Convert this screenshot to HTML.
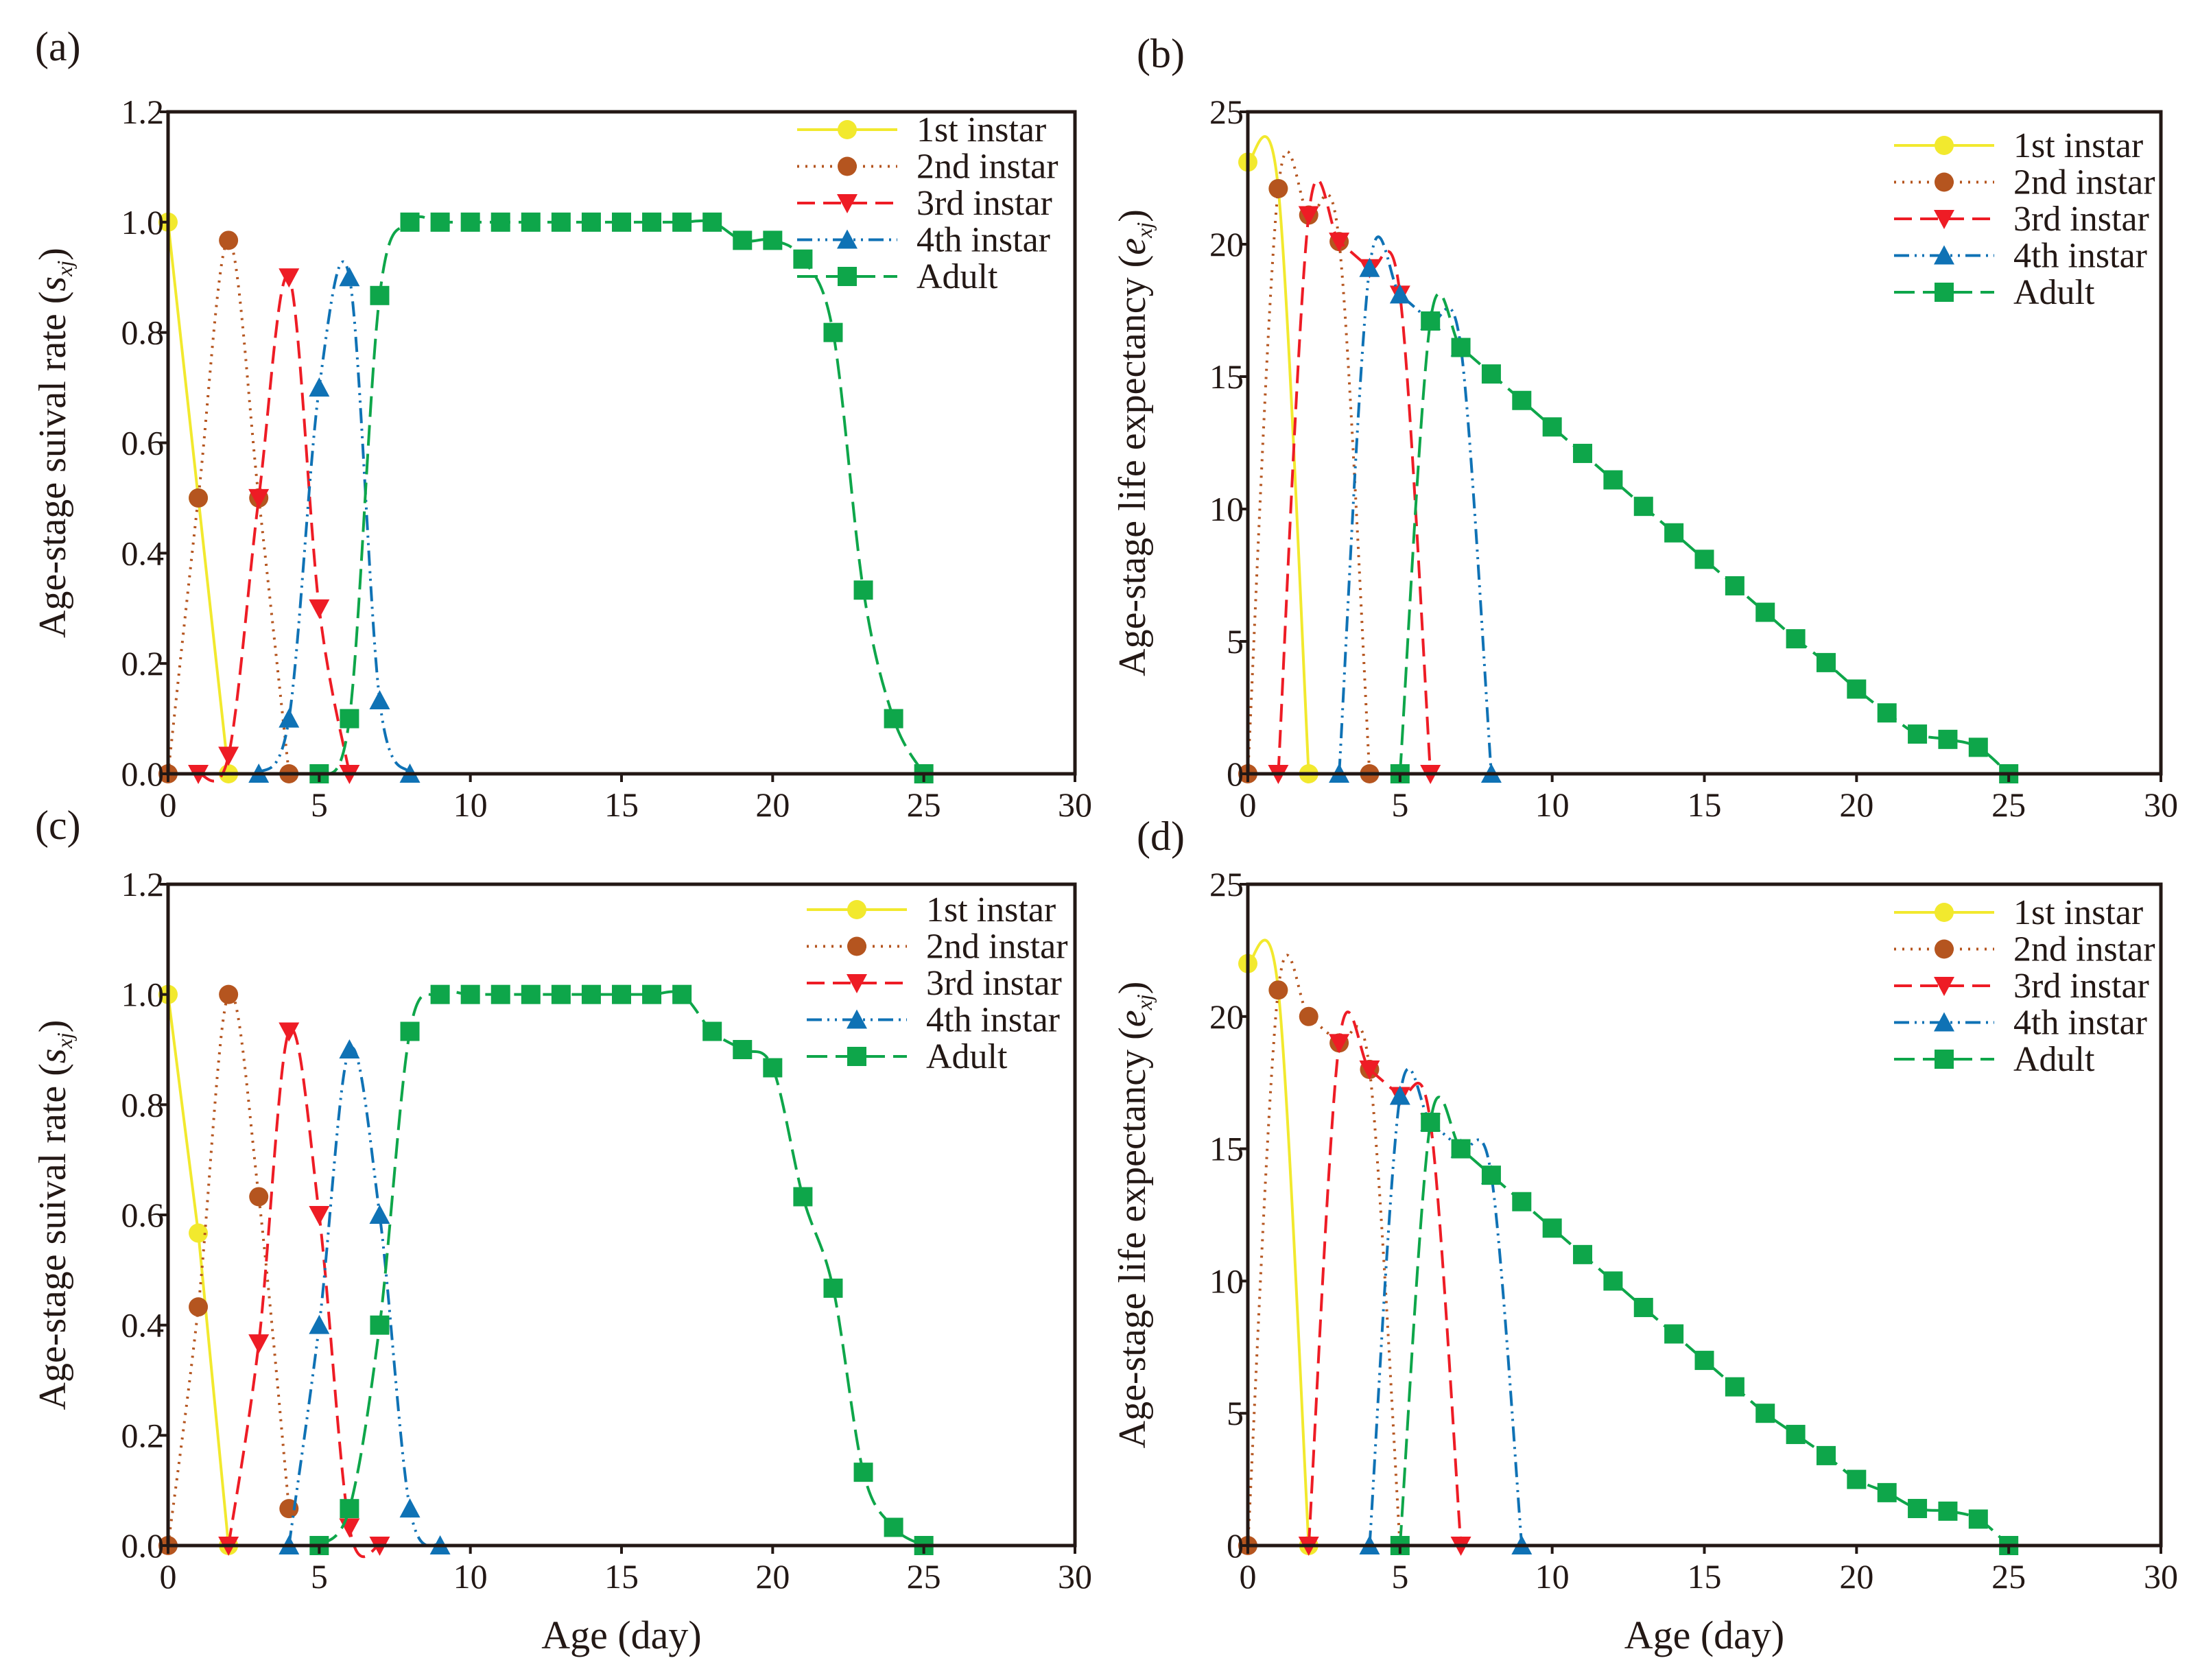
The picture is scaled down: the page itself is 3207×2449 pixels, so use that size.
<!DOCTYPE html>
<html><head><meta charset="utf-8">
<style>
html,body{margin:0;padding:0;background:#fff;}
svg{display:block;}
text{font-family:"Liberation Serif",serif;fill:#231815;}
</style></head>
<body>
<svg id="fig" width="3207" height="2449" viewBox="0 0 3207 2449" xmlns="http://www.w3.org/2000/svg"></svg>
<script>
// ---------- data ----------
const stageNames = ["1st instar","2nd instar","3rd instar","4th instar","Adult"];
// panel (a) survival
const aDays1 = [0,1,2], aVal1 = [1,0.5,0];
const aDays2 = [0,1,2,3,4], aVal2 = [0,0.5,0.967,0.5,0];
const aDays3 = [1,2,3,4,5,6], aVal3 = [0,0.033,0.5,0.9,0.3,0];
const aDays4 = [3,4,5,6,7,8], aVal4 = [0,0.1,0.7,0.9,0.133,0];
const aDays5 = [5,6,7,8,9,10,11,12,13,14,15,16,17,18,19,20,21,22,23,24,25];
const aVal5 = [0,0.1,0.867,1,1,1,1,1,1,1,1,1,1,1,0.967,0.967,0.933,0.8,0.333,0.1,0];
// panel (b) life expectancy
const bDays1 = [0,1,2], bVal1 = [23.1,22.1,0];
const bDays2 = [0,1,2,3,4], bVal2 = [0,22.1,21.1,20.1,0];
const bDays3 = [1,2,3,4,5,6], bVal3 = [0,21.1,20.1,19.1,18.1,0];
const bDays4 = [3,4,5,6,7,8], bVal4 = [0,19.1,18.1,17.1,16.1,0];
const bDays5 = [5,6,7,8,9,10,11,12,13,14,15,16,17,18,19,20,21,22,23,24,25];
const bVal5 = [0,17.1,16.1,15.1,14.1,13.1,12.1,11.1,10.1,9.1,8.1,7.1,6.1,5.1,4.2,3.2,2.3,1.5,1.3,1.0,0];
// panel (c) survival
const cDays1 = [0,1,2], cVal1 = [1,0.567,0];
const cDays2 = [0,1,2,3,4], cVal2 = [0,0.433,1,0.633,0.067];
const cDays3 = [2,3,4,5,6,7], cVal3 = [0,0.367,0.933,0.6,0.033,0];
const cDays4 = [4,5,6,7,8,9], cVal4 = [0,0.4,0.9,0.6,0.067,0];
const cDays5 = [5,6,7,8,9,10,11,12,13,14,15,16,17,18,19,20,21,22,23,24,25];
const cVal5 = [0,0.067,0.4,0.933,1,1,1,1,1,1,1,1,1,0.933,0.9,0.867,0.633,0.467,0.133,0.033,0];
// panel (d) life expectancy
const dDays1 = [0,1,2], dVal1 = [22,21,0];
const dDays2 = [0,1,2,3,4,5], dVal2 = [0,21,20,19,18,0];
const dDays3 = [2,3,4,5,6,7], dVal3 = [0,19,18,17,16,0];
const dDays4 = [4,5,6,7,8,9], dVal4 = [0,17,16,15,14,0];
const dDays5 = [5,6,7,8,9,10,11,12,13,14,15,16,17,18,19,20,21,22,23,24,25];
const dVal5 = [0,16,15,14,13,12,11,10,9,8,7,6,5,4.2,3.4,2.5,2,1.4,1.3,1.0,0];
const xTicks = [0,5,10,15,20,25,30];
const sTicks = [0,0.2,0.4,0.6,0.8,1.0,1.2];
const eTicks = [0,5,10,15,20,25];

const NS="http://www.w3.org/2000/svg";
const svg=document.getElementById('fig');
function mk(tag,attrs,parent){const e=document.createElementNS(NS,tag);for(const k in attrs)e.setAttribute(k,attrs[k]);(parent||svg).appendChild(e);return e;}

const styles=[
 {c:"#f2e92e",dash:"",m:"circle"},
 {c:"#b5551f",dash:"3 9",m:"circle"},
 {c:"#ee1c25",dash:"26 12",m:"down"},
 {c:"#0f72b5",dash:"22 8 3 8 3 8",m:"up"},
 {c:"#0ea64a",dash:"30 12",m:"square"}
];

function marker(g,type,x,y,color){
  let e;
  if(type==="circle") e=mk('circle',{cx:x,cy:y,r:14,fill:color},g);
  else if(type==="square") e=mk('rect',{x:x-14,y:y-14,width:28,height:28,fill:color},g);
  else if(type==="down") e=mk('polygon',{points:`${x-15},${y-13} ${x+15},${y-13} ${x},${y+15}`,fill:color},g);
  else e=mk('polygon',{points:`${x-15},${y+13} ${x+15},${y+13} ${x},${y-15}`,fill:color},g);
  
  
  return e;
}
function spline(pts){
  let d=`M${pts[0][0]},${pts[0][1]}`;
  for(let i=0;i<pts.length-1;i++){
    const p0=pts[i-1]||pts[i],p1=pts[i],p2=pts[i+1],p3=pts[i+2]||pts[i+1];
    const c1x=p1[0]+(p2[0]-p0[0])/6,c1y=p1[1]+(p2[1]-p0[1])/6;
    const c2x=p2[0]-(p3[0]-p1[0])/6,c2y=p2[1]-(p3[1]-p1[1])/6;
    d+=` C${c1x},${c1y} ${c2x},${c2y} ${p2[0]},${p2[1]}`;
  }
  return d;
}

function panel(cfg){
  const {L,R,T,B,ymax,yTicks,fmt,series,label,lx,ly,legX,legY,ytitle,ysub,showX}=cfg;
  const g=mk('g',{});
  
  
  const X=v=>L+(R-L)*v/30, Y=v=>B-(B-T)*v/ymax;
  series.forEach((s,i)=>{
    const st=styles[i];
    const pts=s[0].map((d,j)=>[X(d),Y(s[1][j])]);
    const p=mk('path',{d:i===0&&ymax<2?`M${pts.map(p=>p.join(',')).join(' L')}`:spline(pts),fill:'none',stroke:st.c,'stroke-width':4,'stroke-dasharray':st.dash},g);
    
    
    pts.forEach(q=>marker(g,st.m,q[0],q[1],st.c));
  });
  const fr=mk('rect',{x:L,y:T,width:R-L,height:B-T,fill:'none',stroke:'#231815','stroke-width':5},g);
  
  
  xTicks.forEach(v=>{
    mk('line',{x1:X(v),x2:X(v),y1:B,y2:B+12,stroke:'#231815','stroke-width':4},g);
    const t=mk('text',{x:X(v),y:B+62,'font-size':50,'text-anchor':'middle'},g);t.textContent=v;
    
    
  });
  yTicks.forEach(v=>{
    mk('line',{x1:L-12,x2:L,y1:Y(v),y2:Y(v),stroke:'#231815','stroke-width':4},g);
    const t=mk('text',{x:L-6,y:Y(v)+17,'font-size':50,'text-anchor':'end'},g);t.textContent=fmt(v);
    
    
  });
  const pl=mk('text',{x:lx,y:ly,'font-size':60},g);pl.textContent='('+label+')';
  
  
  const cy=(T+B)/2;
  const yt=mk('text',{x:0,y:0,'font-size':56,'text-anchor':'middle',transform:`translate(${L-150},${cy}) rotate(-90)`},g);
  yt.innerHTML=ytitle+' (<tspan font-style="italic">'+ysub+'</tspan><tspan font-style="italic" font-size="32" dy="10">xj</tspan><tspan dy="-10">)</tspan>';
  
  
  if(showX){
    const xt=mk('text',{x:(L+R)/2,y:B+150,'font-size':58,'text-anchor':'middle'},g);xt.textContent='Age (day)';
    
    
  }
  stageNames.forEach((n,i)=>{
    const st=styles[i];const y=legY+i*53.5;
    const lg=mk('g',{},g);
    
    
    mk('line',{x1:legX,x2:legX+146,y1:y,y2:y,stroke:st.c,'stroke-width':4,'stroke-dasharray':st.dash},lg);
    marker(lg,st.m,legX+73,y,st.c);
    const t=mk('text',{x:legX+174,y:y+17,'font-size':52},lg);t.textContent=n;
  });
}
const fmt1=v=>v.toFixed(1), fmt0=v=>String(v);
panel({L:245,R:1567,T:163,B:1128,ymax:1.2,yTicks:sTicks,fmt:fmt1,label:'a',lx:51,ly:88,legX:1162,legY:189,ytitle:'Age-stage suival rate',ysub:'s',showX:false,
 series:[[aDays1,aVal1],[aDays2,aVal2],[aDays3,aVal3],[aDays4,aVal4],[aDays5,aVal5]]});
panel({L:1819,R:3150,T:163,B:1128,ymax:25,yTicks:eTicks,fmt:fmt0,label:'b',lx:1657,ly:98,legX:2761,legY:212,ytitle:'Age-stage life expectancy',ysub:'e',showX:false,
 series:[[bDays1,bVal1],[bDays2,bVal2],[bDays3,bVal3],[bDays4,bVal4],[bDays5,bVal5]]});
panel({L:245,R:1567,T:1289,B:2253,ymax:1.2,yTicks:sTicks,fmt:fmt1,label:'c',lx:51,ly:1223,legX:1176,legY:1326,ytitle:'Age-stage suival rate',ysub:'s',showX:true,
 series:[[cDays1,cVal1],[cDays2,cVal2],[cDays3,cVal3],[cDays4,cVal4],[cDays5,cVal5]]});
panel({L:1819,R:3150,T:1289,B:2253,ymax:25,yTicks:eTicks,fmt:fmt0,label:'d',lx:1657,ly:1239,legX:2761,legY:1330,ytitle:'Age-stage life expectancy',ysub:'e',showX:true,
 series:[[dDays1,dVal1],[dDays2,dVal2],[dDays3,dVal3],[dDays4,dVal4],[dDays5,dVal5]]});
</script>
</body></html>
